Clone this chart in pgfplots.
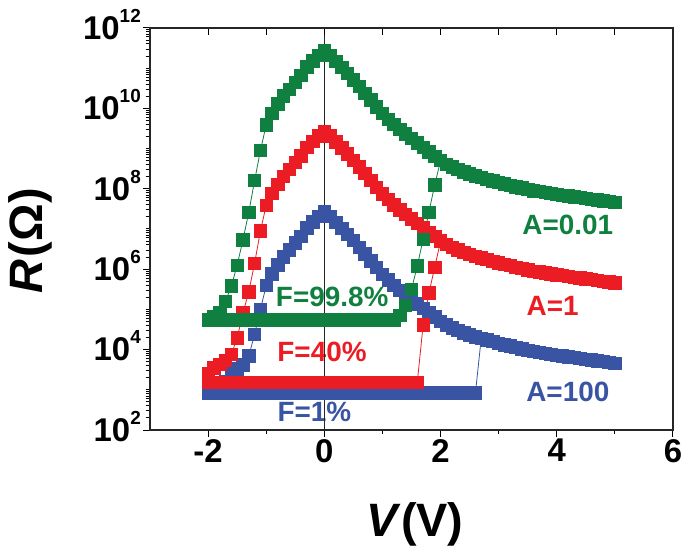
\documentclass[border=0pt]{standalone}
\usepackage{fontspec}
\setmainfont{Liberation Sans}
\usepackage{pgfplots}
\usepackage{pgfplotstable}
\pgfplotsset{compat=1.18}
\definecolor{gcol}{RGB}{16,128,64}
\definecolor{rcol}{RGB}{236,28,36}
\definecolor{bcol}{RGB}{58,84,164}
\newcommand\tl[1]{10\smash{\raisebox{17bp}{\fontsize{19}{19}\selectfont #1}}}

\pgfplotstableread{
V G R B
-1.0 3.89e9 3.89e7 3.89e5
-0.9 7.59e9 7.59e7 7.59e5
-0.8 1.29e10 1.29e8 1.29e6
-0.7 2.04e10 2.04e8 2.04e6
-0.6 3.02e10 3.02e8 3.02e6
-0.5 4.47e10 4.47e8 4.47e6
-0.4 6.61e10 6.61e8 6.61e6
-0.3 1.07e11 1.07e9 1.07e7
-0.2 1.51e11 1.51e9 1.51e7
-0.1 2.09e11 2.09e9 2.09e7
0.0 2.69e11 2.69e9 2.69e7
0.1 2.09e11 2.09e9 2.09e7
0.2 1.48e11 1.48e9 1.48e7
0.3 1.05e11 1.05e9 1.05e7
0.4 7.41e10 7.41e8 7.41e6
0.5 5.13e10 5.13e8 5.13e6
0.6 3.47e10 3.47e8 3.47e6
0.7 2.40e10 2.40e8 2.40e6
0.8 1.62e10 1.62e8 1.62e6
0.9 1.10e10 1.10e8 1.10e6
1.0 7.41e9 7.41e7 7.41e5
1.1 5.37e9 5.37e7 5.37e5
1.2 3.98e9 3.98e7 3.98e5
1.3 3.02e9 3.02e7 3.02e5
1.4 2.34e9 2.34e7 2.34e5
1.5 1.78e9 1.78e7 1.78e5
1.6 1.38e9 1.38e7 1.38e5
1.7 1.07e9 1.07e7 1.07e5
1.8 8.32e8 8.32e6 8.32e4
1.9 6.46e8 6.46e6 6.46e4
2.0 5.01e8 5.01e6 5.01e4
2.1 4.07e8 4.07e6 4.07e4
2.2 3.47e8 3.47e6 3.47e4
2.3 3.02e8 3.02e6 3.02e4
2.4 2.63e8 2.63e6 2.63e4
2.5 2.34e8 2.34e6 2.34e4
2.6 2.09e8 2.09e6 2.09e4
2.7 1.91e8 1.91e6 1.91e4
2.8 1.74e8 1.74e6 1.74e4
2.9 1.58e8 1.58e6 1.58e4
3.0 1.45e8 1.45e6 1.45e4
3.1 1.32e8 1.32e6 1.32e4
3.2 1.23e8 1.23e6 1.23e4
3.3 1.12e8 1.12e6 1.12e4
3.4 1.05e8 1.05e6 1.05e4
3.5 9.55e7 9.55e5 9.55e3
3.6 8.91e7 8.91e5 8.91e3
3.7 8.51e7 8.51e5 8.51e3
3.8 8.13e7 8.13e5 8.13e3
3.9 7.59e7 7.59e5 7.59e3
4.0 7.24e7 7.24e5 7.24e3
4.1 6.92e7 6.92e5 6.92e3
4.2 6.61e7 6.61e5 6.61e3
4.3 6.31e7 6.31e5 6.31e3
4.4 6.03e7 6.03e5 6.03e3
4.5 5.75e7 5.75e5 5.75e3
4.6 5.50e7 5.50e5 5.50e3
4.7 5.25e7 5.25e5 5.25e3
4.8 5.01e7 5.01e5 5.01e3
4.9 4.79e7 4.79e5 4.79e3
5.0 4.57e7 4.57e5 4.57e3
}\curve

\begin{document}
\begin{tikzpicture}
\useasboundingbox (-150bp,-118bp) rectangle (535bp,430bp);
\begin{axis}[
  at={(0,0)}, anchor=south west,
  scale only axis, width=523bp, height=402bp,
  xmin=-3, xmax=6, ymode=log, ymin=1e2, ymax=1e12,
  xtick={-2,0,2,4,6}, xticklabels={-2,0,2,4,6},
  minor xtick={-1,1,3,5},
  ytick={1e2,1e4,1e6,1e8,1e10,1e12},
  yticklabels={\tl{2},\tl{4},\tl{6},\tl{8},\tl{10},\tl{12}},
  minor ytick={2e2,3e2,4e2,5e2,6e2,7e2,8e2,9e2,1e3,2e3,3e3,4e3,5e3,6e3,7e3,8e3,9e3,
    2e4,3e4,4e4,5e4,6e4,7e4,8e4,9e4,1e5,2e5,3e5,4e5,5e5,6e5,7e5,8e5,9e5,
    2e6,3e6,4e6,5e6,6e6,7e6,8e6,9e6,1e7,2e7,3e7,4e7,5e7,6e7,7e7,8e7,9e7,
    2e8,3e8,4e8,5e8,6e8,7e8,8e8,9e8,1e9,2e9,3e9,4e9,5e9,6e9,7e9,8e9,9e9,
    2e10,3e10,4e10,5e10,6e10,7e10,8e10,9e10,1e11,2e11,3e11,4e11,5e11,6e11,7e11,8e11,9e11},
  xtick pos=left, ytick pos=left,
  tick align=outside,
  major tick length=7bp, minor tick length=4bp,
  every tick/.style={line width=1bp, black},
  axis line style={line width=1.2bp, black!85},
  tick label style={font=\fontsize{33}{33}\selectfont\bfseries, inner sep=2bp},
  /pgf/number format/assume math mode=true,
  xlabel={\itshape V\upshape\hspace{3bp}(V)},
  ylabel={\itshape R\upshape\hspace{3bp}(Ω)},
  xlabel style={at={(axis description cs:0.507,-0.266)}, anchor=base, font=\fontsize{47}{47}\selectfont\bfseries},
  ylabel style={at={(axis description cs:-0.205,0.47)}, anchor=base, font=\fontsize{47}{47}\selectfont\bfseries},
  clip=false,
  every axis plot/.append style={line width=0.8bp, mark=square*, mark size=6.2bp, mark options={solid}},
]
% blue
\addplot[bcol, mark options={fill=bcol, draw=bcol}] coordinates {
(-2.0,8.3e2) (-1.9,8.9e2) (-1.8,1.12e3) (-1.7,1.58e3) (-1.6,2.63e3) (-1.5,3.31e3)
(-1.4,4.17e3) (-1.3,6.92e3) (-1.2,2.4e4) (-1.1,1.0e5) (-1.0,3.89e5)};
\addplot[bcol, mark options={fill=bcol, draw=bcol}] table[x=V, y=B] {\curve};
\addplot[bcol, mark options={fill=bcol, draw=bcol}] coordinates {
(-2.0,8.3e2) (-1.9,8.3e2) (-1.8,8.3e2) (-1.7,8.3e2) (-1.6,8.3e2) (-1.5,8.3e2) (-1.4,8.3e2)
(-1.3,8.3e2) (-1.2,8.3e2) (-1.1,8.3e2) (-1.0,8.3e2) (-0.9,8.3e2) (-0.8,8.3e2) (-0.7,8.3e2)
(-0.6,8.3e2) (-0.5,8.3e2) (-0.4,8.3e2) (-0.3,8.3e2) (-0.2,8.3e2) (-0.1,8.3e2) (0.0,8.3e2)
(0.1,8.3e2) (0.2,8.3e2) (0.3,8.3e2) (0.4,8.3e2) (0.5,8.3e2) (0.6,8.3e2) (0.7,8.3e2)
(0.8,8.3e2) (0.9,8.3e2) (1.0,8.3e2) (1.1,8.3e2) (1.2,8.3e2) (1.3,8.3e2) (1.4,8.3e2)
(1.5,8.3e2) (1.6,8.3e2) (1.7,8.3e2) (1.8,8.3e2) (1.9,8.3e2) (2.0,8.3e2) (2.1,8.3e2)
(2.2,8.3e2) (2.3,8.3e2) (2.4,8.3e2) (2.5,8.3e2) (2.6,8.3e2) (2.7,1.91e4)};
% red
\addplot[rcol, mark options={fill=rcol, draw=rcol}] coordinates {
(-2.0,2.6e3) (-1.9,3.5e3) (-1.8,4.3e3) (-1.7,5.4e3) (-1.6,7.6e3) (-1.5,1.95e4)
(-1.4,8.1e4) (-1.3,2.75e5) (-1.2,1.41e6) (-1.1,8.9e6) (-1.0,3.89e7)};
\addplot[rcol, mark options={fill=rcol, draw=rcol}] table[x=V, y=R] {\curve};
\addplot[rcol, mark options={fill=rcol, draw=rcol}] coordinates {
(-2.0,1.55e3) (-1.9,1.55e3) (-1.8,1.55e3) (-1.7,1.55e3) (-1.6,1.55e3) (-1.5,1.55e3) (-1.4,1.55e3)
(-1.3,1.55e3) (-1.2,1.55e3) (-1.1,1.55e3) (-1.0,1.55e3) (-0.9,1.55e3) (-0.8,1.55e3) (-0.7,1.55e3)
(-0.6,1.55e3) (-0.5,1.55e3) (-0.4,1.55e3) (-0.3,1.55e3) (-0.2,1.55e3) (-0.1,1.55e3) (0.0,1.55e3)
(0.1,1.55e3) (0.2,1.55e3) (0.3,1.55e3) (0.4,1.55e3) (0.5,1.55e3) (0.6,1.55e3) (0.7,1.55e3)
(0.8,1.55e3) (0.9,1.55e3) (1.0,1.55e3) (1.1,1.55e3) (1.2,1.55e3) (1.3,1.55e3) (1.4,1.55e3)
(1.5,1.55e3) (1.6,1.55e3) (1.7,4.07e4) (1.8,2.57e5) (1.9,1.12e6) (2.0,5.01e6)};
% green
\addplot[gcol, mark options={fill=gcol, draw=gcol}] coordinates {
(-2.0,5.5e4) (-1.9,6.6e4) (-1.8,8.3e4) (-1.7,1.6e5) (-1.6,3.8e5) (-1.5,1.26e6)
(-1.4,5.4e6) (-1.3,2.6e7) (-1.2,1.6e8) (-1.1,8.9e8) (-1.0,3.89e9)};
\addplot[gcol, mark options={fill=gcol, draw=gcol}] table[x=V, y=G] {\curve};
\addplot[gcol, mark options={fill=gcol, draw=gcol}] coordinates {
(-2.0,5.5e4) (-1.9,5.5e4) (-1.8,5.5e4) (-1.7,5.5e4) (-1.6,5.5e4) (-1.5,5.5e4) (-1.4,5.5e4)
(-1.3,5.5e4) (-1.2,5.5e4) (-1.1,5.5e4) (-1.0,5.5e4) (-0.9,5.5e4) (-0.8,5.5e4) (-0.7,5.5e4)
(-0.6,5.5e4) (-0.5,5.5e4) (-0.4,5.5e4) (-0.3,5.5e4) (-0.2,5.5e4) (-0.1,5.5e4) (0.0,5.5e4)
(0.1,5.5e4) (0.2,5.5e4) (0.3,5.5e4) (0.4,5.5e4) (0.5,5.5e4) (0.6,5.5e4) (0.7,5.5e4)
(0.8,5.5e4) (0.9,5.5e4) (1.0,5.5e4) (1.1,5.5e4) (1.2,5.5e4) (1.3,7.1e4) (1.4,1.26e5)
(1.5,3.16e5) (1.6,1.2e6) (1.7,5.6e6) (1.8,2.63e7) (1.9,1.26e8) (2.0,5.01e8)};
% labels
\node[text=gcol, font=\fontsize{28}{28}\selectfont\bfseries] at (axis cs:0.135,2.0e5) {F=99.8\%};
\node[text=rcol, font=\fontsize{28}{28}\selectfont\bfseries] at (axis cs:-0.04,8.7e3) {F=40\%};
\node[text=bcol, font=\fontsize{28}{28}\selectfont\bfseries] at (axis cs:-0.17,2.8e2) {F=1\%};
\node[text=gcol, font=\fontsize{28}{28}\selectfont\bfseries] at (axis cs:4.19,1.26e7) {A=0.01};
\node[text=rcol, font=\fontsize{28}{28}\selectfont\bfseries] at (axis cs:3.93,1.2e5) {A=1};
\node[text=bcol, font=\fontsize{28}{28}\selectfont\bfseries] at (axis cs:4.19,8.9e2) {A=100};
\draw[line width=1bp, black!85] (axis cs:0,1e2) -- (axis cs:0,1e12);
\end{axis}
\begin{axis}[
  at={(0,0)}, anchor=south west,
  scale only axis, width=523bp, height=402bp,
  xmin=-3, xmax=6, ymin=0, ymax=1,
  xtick={-2,-1,0,1,2,3,4,5}, xticklabels={},
  ytick=\empty,
  xtick pos=right, tick align=inside,
  major tick length=7bp,
  every tick/.style={line width=1bp, black},
  axis line style={line width=1.2bp, black!85},
]
\end{axis}
\end{tikzpicture}
\end{document}
